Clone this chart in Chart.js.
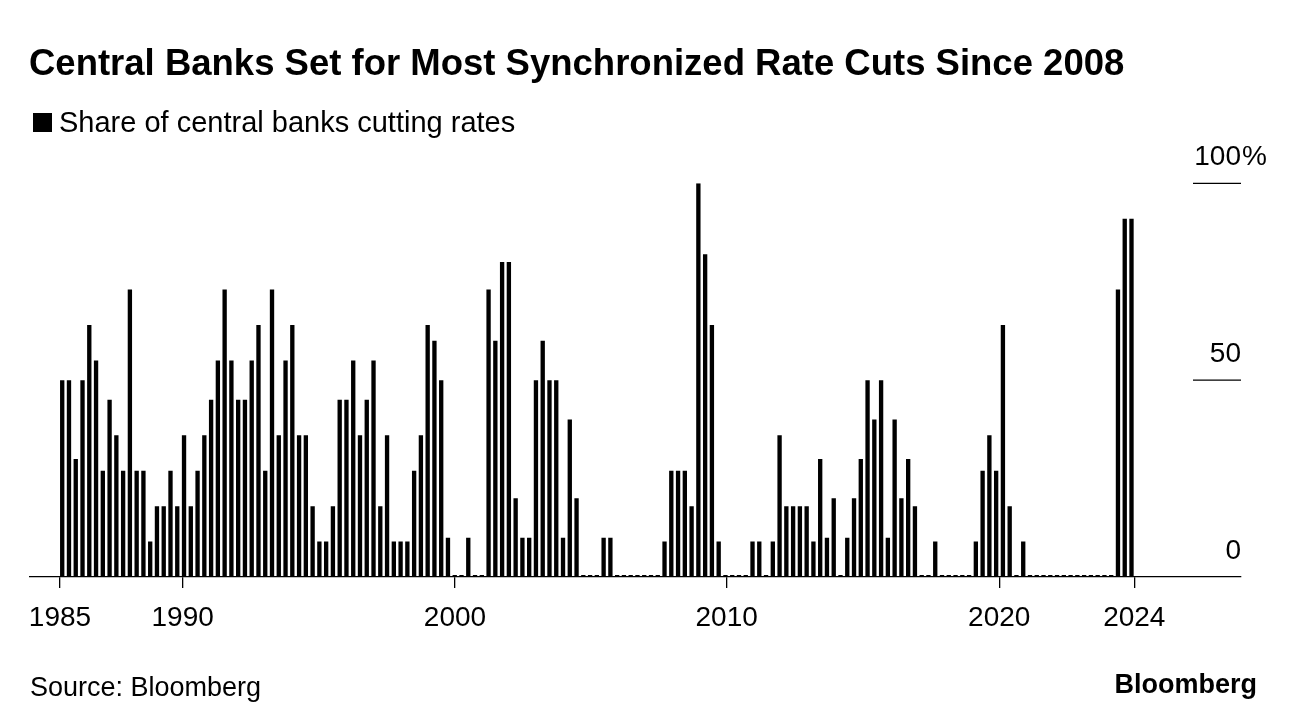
<!DOCTYPE html>
<html>
<head>
<meta charset="utf-8">
<script src="https://cdn.jsdelivr.net/npm/chart.js@4.4.1/dist/chart.umd.min.js"></script>
<style>
  html, body { margin: 0; padding: 0; background: #fff; width: 1296px; height: 728px; overflow: hidden; }
  body { position: relative; font-family: "Liberation Sans", Arial, Helvetica, sans-serif; color: #000; }
  #chart { position: absolute; left: 0; top: 0; }
  .t { position: absolute; white-space: nowrap; line-height: 1; }
  #title { left: 29px; top: 44.6px; font-size: 36.5px; font-weight: 700; }
  #legend-box { position: absolute; left: 33px; top: 113px; width: 19px; height: 19px; background: #000; }
  #legend-text { left: 59px; top: 107.5px; font-size: 29px; }
  #source { left: 30px; top: 674px; font-size: 27px; }
  #logo { right: 39px; top: 671px; font-size: 27px; font-weight: 700; }
</style>
</head>
<body>
<canvas id="chart" width="1296" height="728"></canvas>
<div id="title" class="t">Central Banks Set for Most Synchronized Rate Cuts Since 2008</div>
<div id="legend-box"></div>
<div id="legend-text" class="t">Share of central banks cutting rates</div>
<div id="source" class="t">Source: Bloomberg</div>
<div id="logo" class="t">Bloomberg</div>
<script>
// ---- Data (quarterly, first bar = 1985 Q2, last bar = 2024 Q4) ----
const firstYear = 1985;
const firstQuarter = 2;
const seriesLabel = 'Share of central banks cutting rates';

const shareCutting = [
  50, 50, 30, 50, 64, 55, 27, 45, 36, 27,   // 1985Q2 - 1987Q3
  73, 27, 27, 9, 18, 18, 27, 18, 36, 18,    // 1987Q4 - 1990Q1
  27, 36, 45, 55, 73, 55, 45, 45, 55, 64,   // 1990Q2 - 1992Q3
  27, 73, 36, 55, 64, 36, 36, 18, 9, 9,     // 1992Q4 - 1995Q1
  18, 45, 45, 55, 36, 45, 55, 18, 36, 9,    // 1995Q2 - 1997Q3
  9, 9, 27, 36, 64, 60, 50, 10, 0, 0,       // 1997Q4 - 2000Q1
  10, 0, 0, 73, 60, 80, 80, 20, 10, 10,     // 2000Q2 - 2002Q3
  50, 60, 50, 50, 10, 40, 20, 0, 0, 0,      // 2002Q4 - 2005Q1
  10, 10, 0, 0, 0, 0, 0, 0, 0, 9,           // 2005Q2 - 2007Q3
  27, 27, 27, 18, 100, 82, 64, 9, 0, 0,     // 2007Q4 - 2010Q1
  0, 0, 9, 9, 0, 9, 36, 18, 18, 18,         // 2010Q2 - 2012Q3
  18, 9, 30, 10, 20, 0, 10, 20, 30, 50,     // 2012Q4 - 2015Q1
  40, 50, 10, 40, 20, 30, 18, 0, 0, 9,      // 2015Q2 - 2017Q3
  0, 0, 0, 0, 0, 9, 27, 36, 27, 64,         // 2017Q4 - 2020Q1
  18, 0, 9, 0, 0, 0, 0, 0, 0, 0,            // 2020Q2 - 2022Q3
  0, 0, 0, 0, 0, 0, 73, 91, 91              // 2022Q4 - 2024Q4
];

// Year labels on the time axis and where they sit (in bar-index units)
const tickLabels = ['1985', '1990', '2000', '2010', '2020', '2024'];
const tickAt = [-0.33, 17.8, 58.04, 98.18, 138.46, 158.41];

// Value-axis ticks
const yTicks = [0, 50, 100];

// Quarter categories built from the start quarter
const quarters = shareCutting.map((_, i) => {
  const k = firstYear * 4 + (firstQuarter - 1) + i;
  return Math.floor(k / 4) + ' Q' + (k % 4 + 1);
});

Chart.defaults.font.family = '"Liberation Sans", Arial, Helvetica, sans-serif';
Chart.defaults.color = '#000';

const rightMarks = {
  id: 'rightMarks',
  afterDraw(chart) {
    const { ctx, chartArea, scales: { y } } = chart;
    ctx.save();
    ctx.strokeStyle = '#000';
    ctx.lineWidth = 1.3;
    yTicks.forEach(v => {
      if (v === 0) return;
      const py = y.getPixelForValue(v);
      ctx.beginPath();
      ctx.moveTo(chartArea.right - 48, py);
      ctx.lineTo(chartArea.right, py);
      ctx.stroke();
    });
    ctx.font = '28px "Liberation Sans", Arial, Helvetica, sans-serif';
    ctx.fillStyle = '#000';
    ctx.textAlign = 'left';
    ctx.textBaseline = 'middle';
    ctx.fillText('%', chartArea.right + 1, y.getPixelForValue(yTicks[yTicks.length - 1]) - 26);
    ctx.restore();
  }
};

new Chart(document.getElementById('chart'), {
  type: 'bar',
  data: {
    labels: quarters,
    datasets: [{
      label: seriesLabel,
      data: shareCutting.map((v, i) => ({ x: i, y: v })),
      backgroundColor: '#000',
      borderWidth: 0,
      categoryPercentage: 1,
      barPercentage: 0.64,
      minBarLength: 2
    }]
  },
  options: {
    responsive: false,
    animation: false,
    layout: { padding: { left: 30, right: 55, top: 183.3, bottom: 81 } },
    plugins: {
      legend: { display: false },
      title: { display: false },
      tooltip: {
        callbacks: {
          title: items => quarters[items[0].dataIndex],
          label: item => item.parsed.y + '%'
        }
      }
    },
    scales: {
      x: {
        type: 'linear',
        bounds: 'data',
        min: -4.76,
        max: 174.18,
        offset: false,
        afterBuildTicks: ax => { ax.ticks = tickAt.map(v => ({ value: v })); },
        afterFit: s => { s.height = 70; },
        grid: { display: true, drawOnChartArea: false, drawTicks: true, tickLength: 11, color: '#000', lineWidth: 1.3, offset: false },
        border: { display: true, color: '#000', width: 1.3 },
        ticks: {
          autoSkip: false, maxRotation: 0, minRotation: 0, padding: 13,
          font: { size: 28 }, color: '#000',
          callback: (v, i) => tickLabels[i]
        }
      },
      y: {
        position: 'right',
        min: 0,
        max: 100,
        afterBuildTicks: ax => { ax.ticks = yTicks.map(v => ({ value: v })); },
        afterFit: s => { s.width = 0; },
        grid: { display: false, drawTicks: false },
        border: { display: false },
        ticks: {
          mirror: true, padding: 0, labelOffset: -26,
          font: { size: 28 }, color: '#000',
          callback: v => String(v)
        }
      }
    }
  },
  plugins: [rightMarks]
});
</script>
</body>
</html>
